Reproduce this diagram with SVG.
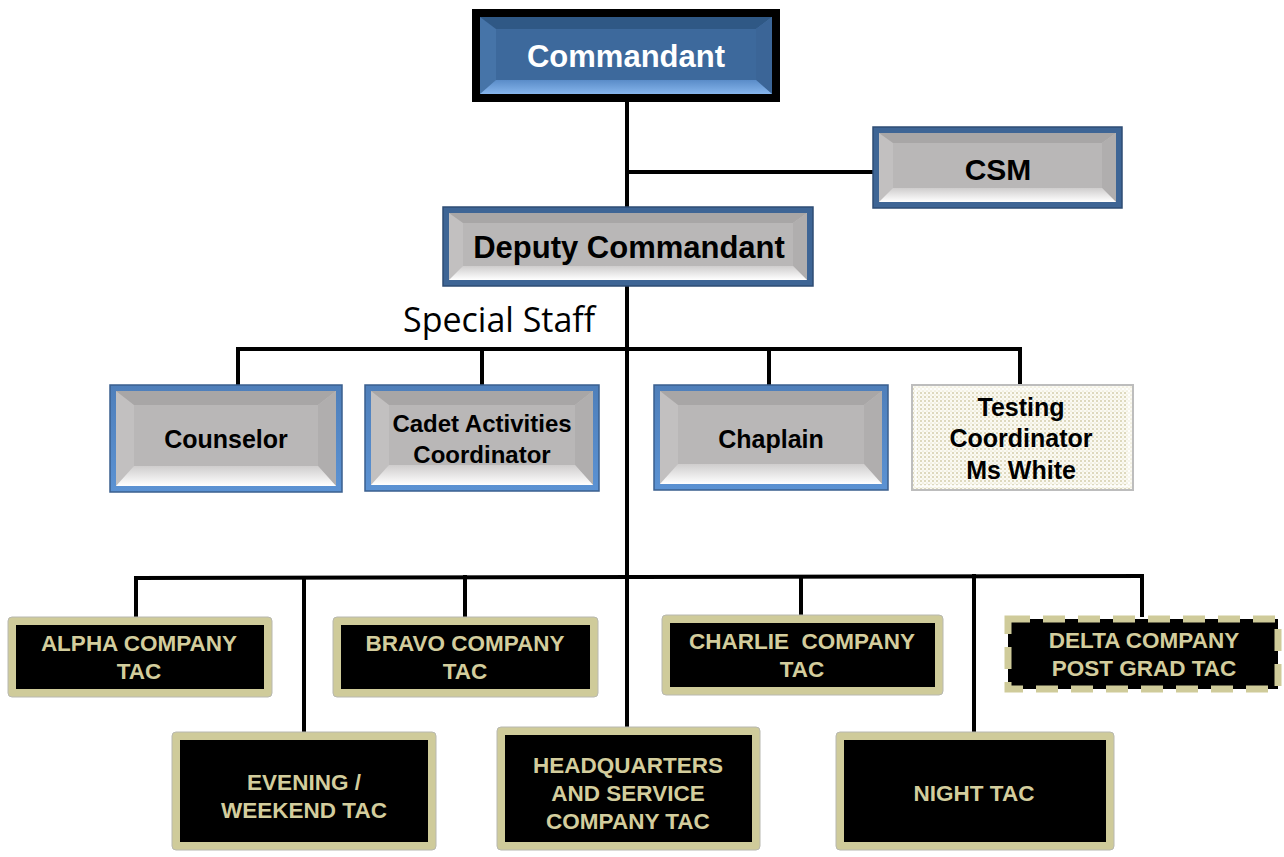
<svg xmlns="http://www.w3.org/2000/svg" width="1284" height="857" viewBox="0 0 1284 857">
<defs>
<linearGradient id="botG" x1="0" y1="0" x2="0" y2="1">
<stop offset="0" stop-color="#CFCDCD"/>
<stop offset="1" stop-color="#FFFFFF"/>
</linearGradient>
<linearGradient id="botB" x1="0" y1="0" x2="0" y2="1">
<stop offset="0" stop-color="#5A8CC8"/>
<stop offset="1" stop-color="#86B5EC"/>
</linearGradient>
<linearGradient id="blueBorder" x1="0" y1="0" x2="0" y2="1">
<stop offset="0" stop-color="#4F7FBA"/>
<stop offset="1" stop-color="#5B92D3"/>
</linearGradient>
<pattern id="dots" width="4" height="4" patternUnits="userSpaceOnUse">
<rect width="4" height="4" fill="#FBFAF3"/>
<circle cx="1" cy="1" r="0.8" fill="#B9AF7C"/>
<circle cx="3" cy="3" r="0.6" fill="#D8D2AE"/>
</pattern>
<style>
.conn{stroke:#000;stroke-width:4;fill:none;stroke-linecap:square}
.bframe{fill:url(#blueBorder);stroke:#3A5F8E;stroke-width:1.5}
.dframe{fill:#3E6595;stroke:#2E4C74;stroke-width:1.5}
.base{fill:#C2C0C0}
.top{fill:#A8A6A6}
.right{fill:#B0AEAE}
.bot{fill:url(#botG)}
.face{fill:#B9B7B7}
.gt{font-family:"Liberation Sans",Arial,sans-serif;font-weight:bold;fill:#000;text-anchor:middle}
.tacO{fill:#CFCB9A;stroke:#B8B8B0;stroke-width:1}
.tacI{fill:#000}
.tt{font-family:"Liberation Sans",Arial,sans-serif;font-weight:bold;font-size:22.5px;fill:#D3CD9D;text-anchor:middle}
</style>
</defs>
<rect width="1284" height="857" fill="#FFFFFF"/>

<g id="connectors">
<line class="conn" x1="627" y1="102" x2="627" y2="727"/>
<line class="conn" x1="627" y1="172" x2="873" y2="172"/>
<line class="conn" x1="238" y1="349" x2="1020" y2="349"/>
<line class="conn" x1="238" y1="349" x2="238" y2="385"/>
<line class="conn" x1="482" y1="349" x2="482" y2="385"/>
<line class="conn" x1="769" y1="349" x2="769" y2="385"/>
<line class="conn" x1="1020" y1="349" x2="1020" y2="385"/>
<line class="conn" x1="136" y1="578" x2="1142" y2="576"/>
<line class="conn" x1="136" y1="578" x2="136" y2="617"/>
<line class="conn" x1="304" y1="578" x2="304" y2="732"/>
<line class="conn" x1="465" y1="577" x2="465" y2="617"/>
<line class="conn" x1="801" y1="577" x2="801" y2="615"/>
<line class="conn" x1="974" y1="576" x2="974" y2="732"/>
<line class="conn" x1="1142" y1="576" x2="1142" y2="615"/>
</g>

<g id="commandant">
<rect x="472" y="9" width="308" height="93" fill="#000"/>
<rect x="480" y="17" width="292" height="77" fill="#4674A8"/>
<polygon points="480,17 772,17 756,29 496,29" fill="#2F5885"/>
<polygon points="772,17 772,94 756,80 756,29" fill="#3B6597"/>
<polygon points="480,94 772,94 756,80 496,80" fill="url(#botB)"/>
<rect x="496" y="29" width="260" height="51" fill="#3D699C"/>
<text class="gt" x="626" y="67" font-size="31" style="fill:#FFFFFF">Commandant</text>
</g>

<g id="csm">
<rect class="dframe" x="873" y="127" width="249" height="81"/>
<rect class="base" x="879" y="133" width="237" height="69"/>
<polygon class="top" points="879,133 1116,133 1102,143 893,143"/>
<polygon class="right" points="1116,133 1116,202 1102,188 1102,143"/>
<polygon class="bot" points="879,202 1116,202 1102,188 893,188"/>
<rect class="face" x="893" y="143" width="209" height="45"/>
<text class="gt" x="998" y="180" font-size="30">CSM</text>
</g>

<g id="deputy">
<rect class="dframe" x="443" y="207" width="370" height="79"/>
<rect class="base" x="449" y="213" width="358" height="67"/>
<polygon class="top" points="449,213 807,213 793,223 463,223"/>
<polygon class="right" points="807,213 807,280 793,266 793,223"/>
<polygon class="bot" points="449,280 807,280 793,266 463,266"/>
<rect class="face" x="463" y="223" width="330" height="43"/>
<text class="gt" x="629" y="258" font-size="31">Deputy Commandant</text>
</g>

<text id="special-staff" x="403" y="332" font-family="'Open Sans','Noto Sans',sans-serif" font-size="34" fill="#000">Special Staff</text>

<g id="counselor">
<rect class="bframe" x="110" y="385" width="232" height="107"/>
<rect class="base" x="116" y="391" width="220" height="95"/>
<polygon class="top" points="116,391 336,391 318,405 134,405"/>
<polygon class="right" points="336,391 336,486 318,466 318,405"/>
<polygon class="bot" points="116,486 336,486 318,466 134,466"/>
<rect class="face" x="134" y="405" width="184" height="61"/>
<text class="gt" x="226" y="448" font-size="25">Counselor</text>
</g>

<g id="cadet-activities">
<rect class="bframe" x="365" y="385" width="234" height="106"/>
<rect class="base" x="371" y="391" width="222" height="94"/>
<polygon class="top" points="371,391 593,391 575,405 389,405"/>
<polygon class="right" points="593,391 593,485 575,465 575,405"/>
<polygon class="bot" points="371,485 593,485 575,465 389,465"/>
<rect class="face" x="389" y="405" width="186" height="60"/>
<text class="gt" x="482" y="432" font-size="24">Cadet Activities</text>
<text class="gt" x="482" y="463" font-size="24">Coordinator</text>
</g>

<g id="chaplain">
<rect class="bframe" x="654" y="385" width="234" height="105"/>
<rect class="base" x="660" y="391" width="222" height="93"/>
<polygon class="top" points="660,391 882,391 864,405 678,405"/>
<polygon class="right" points="882,391 882,484 864,464 864,405"/>
<polygon class="bot" points="660,484 882,484 864,464 678,464"/>
<rect class="face" x="678" y="405" width="186" height="59"/>
<text class="gt" x="771" y="448" font-size="25">Chaplain</text>
</g>

<g id="testing">
<rect x="912" y="385" width="221" height="105" fill="url(#dots)" stroke="#BDBDBD" stroke-width="2"/>
<rect x="916" y="389" width="213" height="97" fill="none" stroke="#FFFFFF" stroke-width="2" opacity="0.7"/>
<text class="gt" x="1021" y="416" font-size="25">Testing</text>
<text class="gt" x="1021" y="447" font-size="25">Coordinator</text>
<text class="gt" x="1021" y="479" font-size="25">Ms White</text>
</g>

<g id="alpha">
<rect class="tacO" x="8" y="617" width="264" height="80" rx="4"/>
<rect class="tacI" x="16" y="625" width="248" height="64"/>
<text class="tt" x="139" y="651">ALPHA COMPANY</text>
<text class="tt" x="139" y="679">TAC</text>
</g>

<g id="bravo">
<rect class="tacO" x="333" y="617" width="265" height="80" rx="4"/>
<rect class="tacI" x="341" y="625" width="249" height="64"/>
<text class="tt" x="465" y="651">BRAVO COMPANY</text>
<text class="tt" x="465" y="679">TAC</text>
</g>

<g id="charlie">
<rect class="tacO" x="662" y="615" width="281" height="80" rx="4"/>
<rect class="tacI" x="670" y="623" width="265" height="64"/>
<text class="tt" x="802" y="649" xml:space="preserve">CHARLIE  COMPANY</text>
<text class="tt" x="802" y="677">TAC</text>
</g>

<g id="delta">
<rect x="1008" y="619" width="270" height="70" fill="#000" stroke="#CFCB9A" stroke-width="7" stroke-dasharray="22 13"/>
<text class="tt" x="1144" y="648">DELTA COMPANY</text>
<text class="tt" x="1144" y="676">POST GRAD TAC</text>
</g>

<g id="evening">
<rect class="tacO" x="172" y="732" width="264" height="118" rx="4"/>
<rect class="tacI" x="180" y="740" width="248" height="102"/>
<text class="tt" x="304" y="790">EVENING /</text>
<text class="tt" x="304" y="818">WEEKEND TAC</text>
</g>

<g id="hq">
<rect class="tacO" x="497" y="727" width="263" height="123" rx="4"/>
<rect class="tacI" x="505" y="735" width="247" height="107"/>
<text class="tt" x="628" y="773">HEADQUARTERS</text>
<text class="tt" x="628" y="801">AND SERVICE</text>
<text class="tt" x="628" y="829">COMPANY TAC</text>
</g>

<g id="night">
<rect class="tacO" x="836" y="732" width="278" height="118" rx="4"/>
<rect class="tacI" x="844" y="740" width="262" height="102"/>
<text class="tt" x="974" y="801">NIGHT TAC</text>
</g>
</svg>
